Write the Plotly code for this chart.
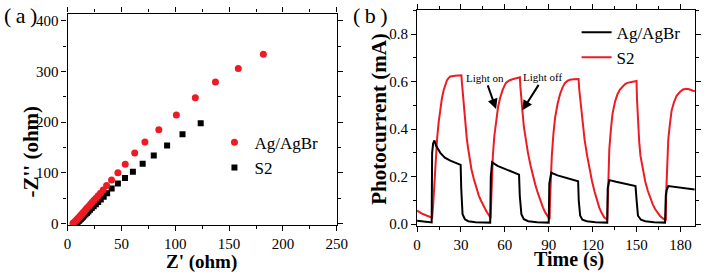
import plotly.graph_objects as go

# ---------------- Panel (a): Nyquist data ----------------
agbr_zre = [5.0, 5.4, 5.9, 6.4, 7.0, 7.6, 8.3, 9.0, 9.8, 10.6, 11.5, 12.5, 13.5, 14.6, 15.8, 17.0,
            18.3, 19.7, 21.2, 22.8, 24.5, 26.3, 28.3, 30.5, 33.0, 36.2, 40.8, 46.7, 53.5, 62.3,
            71.8, 84.7, 101.0, 118.6, 137.3, 158.5, 181.8]
agbr_zim = [0.4, 1.0, 1.8, 2.8, 4.0, 5.3, 6.8, 8.5, 10.3, 12.3, 14.5, 17, 19.5, 22, 25, 28,
            31, 34, 38, 42, 46, 50, 55, 60, 66, 75, 86, 100, 117, 139,
            161, 185, 214, 248, 279, 306, 334]
s2_zre = [7.5, 7.9, 8.4, 8.9, 9.5, 10.1, 10.8, 11.6, 12.4, 13.3, 14.3, 15.4, 16.6, 17.9, 19.3,
          20.8, 22.4, 24.2, 26.2, 28.4, 30.8, 33.5, 36.7, 40.9, 46.7, 53.3, 60.6, 69.7, 80.0,
          92.4, 106.7, 123.6]
s2_zim = [0.3, 0.9, 1.6, 2.5, 3.6, 4.8, 6.2, 7.8, 9.5, 11.4, 13.5, 15.8, 18.3, 21, 24,
          27, 30.5, 34, 38, 42.5, 47.5, 53, 60, 69, 79, 90, 102, 118, 134,
          154, 176, 198]

# ---------------- Panel (b): photocurrent data ----------------
agbr_t = [0, 5, 10, 10.3, 11, 11.9, 13, 15.9, 19, 22.7, 26, 29.8, 30.2, 31.1, 32.7, 35, 40, 50,
          50.4, 51.3, 55, 60, 65.2, 69.7, 70.2, 71.3, 73, 76, 82, 90,
          90.4, 91.7, 96, 101, 105, 110.1, 110.5, 111.5, 113, 116, 122, 130,
          130.3, 131.4, 136, 142, 149.3, 150.2, 151, 153, 156, 162, 169.5,
          170, 170.5, 171.7, 176, 182, 189.7]
agbr_i = [0.014, 0.010, 0.007, 0.30, 0.34, 0.352, 0.33, 0.30, 0.28, 0.267, 0.258, 0.249, 0.15,
          0.041, 0.020, 0.012, 0.008, 0.006,
          0.20, 0.26, 0.245, 0.232, 0.219, 0.208, 0.12, 0.041, 0.020, 0.012, 0.008, 0.006,
          0.17, 0.216, 0.205, 0.196, 0.188, 0.180, 0.10, 0.035, 0.018, 0.012, 0.008, 0.006,
          0.15, 0.185, 0.178, 0.170, 0.160, 0.09, 0.035, 0.018, 0.012, 0.008, 0.006,
          0.12, 0.14, 0.160, 0.156, 0.152, 0.146]

s2_t = [0, 3, 6, 10.3, 11, 11.9, 12.6, 13.7, 14.8, 15.9, 17, 18.2, 19.3, 20.4, 21.5, 22.7, 26, 30.3,
        30.6, 31.1, 32, 32.7, 34, 35, 36, 37.2, 38.8, 40.6, 42.2, 43.9, 45.5, 47.3, 48.8, 50.3,
        50.6, 51, 51.8, 52.8, 54, 55.3, 56.7, 58.5, 60.7, 63, 65.2, 67.5, 70.3,
        70.6, 71.2, 72, 73, 74.2, 75.8, 77.6, 79.2, 80.9, 82.6, 84.3, 86, 87.7, 89.2, 90.6,
        90.9, 91.4, 92.1, 93.2, 94.4, 96, 97.7, 99.4, 101.1, 102.8, 104.5, 107, 110.4,
        110.8, 111.5, 112.3, 113.4, 114.5, 116.2, 117.9, 119.6, 121.3, 123, 124.6, 126.3, 128, 130,
        130.4, 130.8, 131.4, 132.5, 133.6, 135.3, 137, 138.7, 140.4, 142, 143.7, 146.5, 149.3, 150,
        150.3, 150.9, 151.8, 152.7, 154.3, 156, 157.7, 159.4, 161.1, 162.8, 164.5, 166.1, 167.8,
        169.5, 170,
        170.4, 171, 171.7, 172.8, 174, 175.7, 177.4, 179.6, 181.8, 184, 186, 188.5, 190]
s2_i = [0.057, 0.045, 0.037, 0.027, 0.08, 0.19, 0.28, 0.36, 0.43, 0.49, 0.53, 0.565, 0.59, 0.605,
        0.615, 0.622, 0.625, 0.627,
        0.60, 0.56, 0.48, 0.43, 0.36, 0.315, 0.27, 0.23, 0.19, 0.15, 0.12, 0.096, 0.075, 0.055,
        0.04, 0.025,
        0.08, 0.17, 0.287, 0.37, 0.44, 0.49, 0.53, 0.565, 0.595, 0.605, 0.61, 0.615, 0.618,
        0.58, 0.52, 0.478, 0.41, 0.356, 0.30, 0.246, 0.20, 0.164, 0.13, 0.096, 0.07, 0.048, 0.032,
        0.02,
        0.10, 0.20, 0.287, 0.38, 0.45, 0.505, 0.547, 0.575, 0.595, 0.603, 0.608, 0.61, 0.611,
        0.57, 0.53, 0.49, 0.42, 0.356, 0.29, 0.233, 0.18, 0.137, 0.10, 0.068, 0.045, 0.027, 0.018,
        0.12, 0.22, 0.315, 0.40, 0.465, 0.515, 0.547, 0.567, 0.581, 0.589, 0.595, 0.60, 0.602,
        0.603,
        0.53, 0.424, 0.35, 0.287, 0.225, 0.178, 0.14, 0.109, 0.083, 0.062, 0.046, 0.034, 0.025,
        0.02, 0.015,
        0.15, 0.27, 0.356, 0.42, 0.479, 0.515, 0.54, 0.556, 0.567, 0.57, 0.568, 0.562, 0.56]

xticks_a = [0, 50, 100, 150, 200, 250]
yticks_a = [0, 100, 200, 300, 400]
xticks_b = [0, 30, 60, 90, 120, 150, 180]
yticks_b = [0.0, 0.2, 0.4, 0.6, 0.8]

RED = "#ec1c24"
SERIF = "Liberation Serif"
W, H = 708, 279

fig = go.Figure()

# Panel (a)
fig.add_trace(go.Scatter(x=s2_zre, y=s2_zim, mode="markers", name="S2",
                         marker=dict(symbol="square", size=6, color="black"),
                         xaxis="x", yaxis="y", legend="legend", legendrank=2))
fig.add_trace(go.Scatter(x=agbr_zre, y=agbr_zim, mode="markers", name="Ag/AgBr",
                         marker=dict(symbol="circle", size=7, color=RED),
                         xaxis="x", yaxis="y", legend="legend", legendrank=1))

# Panel (b)
fig.add_trace(go.Scatter(x=s2_t, y=s2_i, mode="lines", name="S2",
                         line=dict(color=RED, width=2),
                         xaxis="x2", yaxis="y2", legend="legend2", legendrank=2))
fig.add_trace(go.Scatter(x=agbr_t, y=agbr_i, mode="lines", name="Ag/AgBr",
                         line=dict(color="black", width=2),
                         xaxis="x2", yaxis="y2", legend="legend2", legendrank=1))

axis_common = dict(showline=True, linecolor="black", linewidth=1.3, mirror="ticks",
                   ticks="outside", ticklen=5, tickwidth=1.2, tickcolor="black",
                   showgrid=False, zeroline=False,
                   tickfont=dict(family=SERIF, size=15, color="black"))


def px_x(p):
    return p / W


def px_y(p):
    return (H - p) / H


fig.update_layout(
    width=W, height=H,
    margin=dict(l=0, r=0, t=0, b=0),
    paper_bgcolor="white", plot_bgcolor="white",
    font=dict(family=SERIF, color="black"),
    xaxis=dict(axis_common, domain=[px_x(65), px_x(340)], range=[0, 250],
               tickvals=xticks_a, anchor="y",
               minor=dict(ticks="outside", ticklen=3, dtick=25, tickcolor="black")),
    yaxis=dict(axis_common, domain=[px_y(230.5), px_y(14)], range=[-2.3, 414],
               tickvals=yticks_a, anchor="x",
               minor=dict(ticks="outside", ticklen=3, dtick=50, tickcolor="black")),
    xaxis2=dict(axis_common, domain=[px_x(422), px_x(706)], range=[0, 190],
                tickvals=xticks_b, anchor="y2",
                minor=dict(ticks="outside", ticklen=3, dtick=15, tickcolor="black")),
    yaxis2=dict(axis_common, domain=[px_y(231.5), px_y(10)], range=[-0.007, 0.903],
                tickvals=yticks_b, tickformat=".1f", anchor="x2",
                minor=dict(ticks="outside", ticklen=3, dtick=0.1, tickcolor="black")),
    legend=dict(x=px_x(215), y=px_y(128), xanchor="left", yanchor="top",
                bgcolor="rgba(0,0,0,0)", font=dict(family=SERIF, size=17),
                itemwidth=30, tracegroupgap=0),
    legend2=dict(x=px_x(585), y=px_y(15), xanchor="left", yanchor="top",
                 bgcolor="rgba(0,0,0,0)", font=dict(family=SERIF, size=17),
                 itemwidth=30, tracegroupgap=0),
    showlegend=True,
)

# axis titles
fig.add_annotation(text="<b>Z' (ohm)</b>", xref="paper", yref="paper",
                   x=px_x(202), y=px_y(268.5), xanchor="center", yanchor="middle",
                   showarrow=False, font=dict(family=SERIF, size=19))
fig.add_annotation(text="<b>-Z'' (ohm)</b>", xref="paper", yref="paper",
                   x=px_x(28), y=px_y(155), xanchor="center", yanchor="middle", textangle=-90,
                   showarrow=False, font=dict(family=SERIF, size=21))
fig.add_annotation(text="<b>Time (s)</b>", xref="paper", yref="paper",
                   x=px_x(577), y=px_y(266.5), xanchor="center", yanchor="middle",
                   showarrow=False, font=dict(family=SERIF, size=20))
fig.add_annotation(text="<b>Photocurrent (mA)</b>", xref="paper", yref="paper",
                   x=px_x(383), y=px_y(122), xanchor="center", yanchor="middle", textangle=-90,
                   showarrow=False, font=dict(family=SERIF, size=21))

# panel labels
fig.add_annotation(text="(\u2009a\u2009)", xref="paper", yref="paper", x=px_x(17), y=px_y(16),
                   xanchor="center", yanchor="middle",
                   showarrow=False, font=dict(family=SERIF, size=22))
fig.add_annotation(text="(\u2009b\u2009)", xref="paper", yref="paper", x=px_x(374), y=px_y(16),
                   xanchor="center", yanchor="middle",
                   showarrow=False, font=dict(family=SERIF, size=22))

# light on / off arrows
fig.add_annotation(text="Light on", xref="x2", yref="y2", x=54.0, y=0.485,
                   ax=-11, ay=-31, showarrow=True, arrowhead=2, arrowsize=1,
                   arrowwidth=2, arrowcolor="black", font=dict(family=SERIF, size=11))
fig.add_annotation(text="Light off", xref="x2", yref="y2", x=72.0, y=0.479,
                   ax=21, ay=-33, showarrow=True, arrowhead=2, arrowsize=1,
                   arrowwidth=2, arrowcolor="black", font=dict(family=SERIF, size=11))

fig.write_html("out.html", config={"displayModeBar": False},
               post_script="document.body.style.margin='0px';")
